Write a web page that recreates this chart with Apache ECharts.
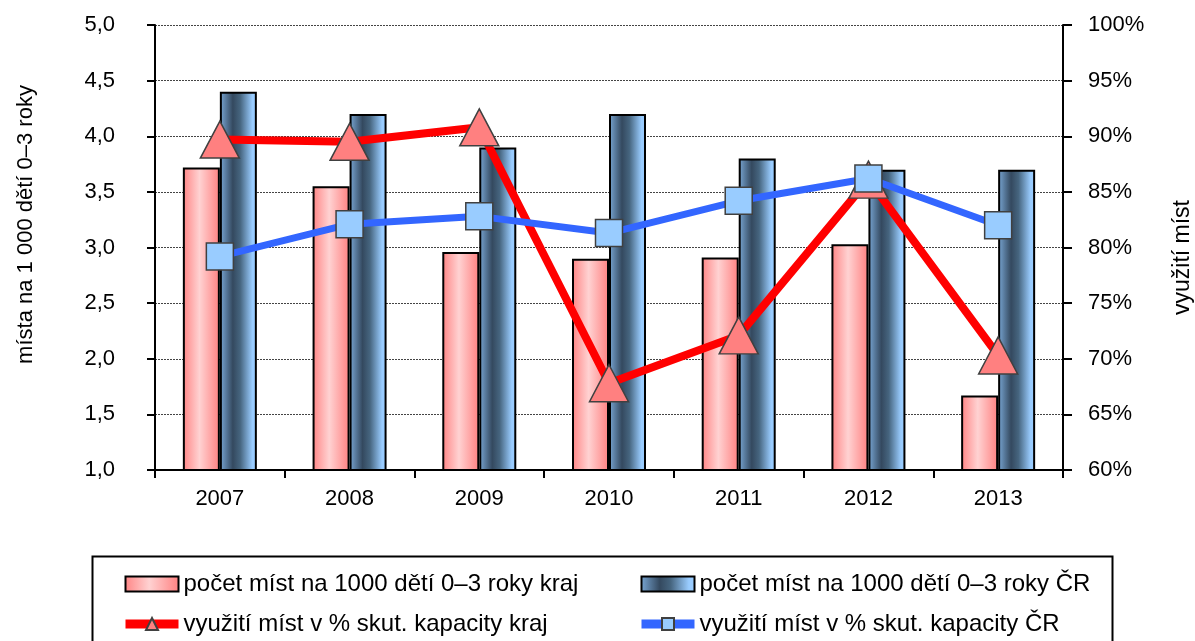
<!DOCTYPE html>
<html>
<head>
<meta charset="utf-8">
<script src="https://cdn.jsdelivr.net/npm/echarts@6/dist/echarts.min.js"></script>
<style>
  html, body { margin: 0; padding: 0; background: #fff; }
  #chart { width: 1195px; height: 641px; }
</style>
</head>
<body>
<div id="chart"></div>
<script>
// roky
var years = ['2007', '2008', '2009', '2010', '2011', '2012', '2013']
// počet míst na 1000 dětí 0–3 roky
var mistaKraj = [3.72, 3.55, 2.96, 2.90, 2.91, 3.03, 1.67]
var mistaCR = [4.4, 4.2, 3.9, 4.2, 3.8, 3.7, 3.7]
// využití míst v % skut. kapacity
var vyuzitiKraj = [89.7, 89.5, 90.8, 67.8, 72.1, 86.1, 70.3]
var vyuzitiCR = [79.2, 82.1, 82.8, 81.3, 84.2, 86.2, 82.0]

var FONT = '"Liberation Sans", Arial, sans-serif'

var chart = echarts.init(document.getElementById('chart'))

var redGrad = new echarts.graphic.LinearGradient(0, 0, 1, 0, [
    { offset: 0, color: '#ff8484' },
    { offset: 0.45, color: '#ffd2d2' },
    { offset: 1, color: '#ff8080' },
])
var blueGrad = new echarts.graphic.LinearGradient(0, 0, 1, 0, [
    { offset: 0, color: '#7aa8d6' },
    { offset: 0.35, color: '#34495f' },
    { offset: 0.55, color: '#46657f' },
    { offset: 0.88, color: '#99ccff' },
    { offset: 1, color: '#99ccff' },
])

var legendBase = {
    orient: 'vertical',
    top: 567,
    itemWidth: 53,
    itemHeight: 15,
    itemGap: 16,
    textStyle: { fontFamily: FONT, fontSize: 24, color: '#000', padding: [0, 0, 0, 0] },
    lineStyle: { width: 9 },
}

var option = {
    animation: false,
    textStyle: { fontFamily: FONT, color: '#000' },
    grid: { left: 155, right: 132, top: 25, bottom: 171, outerBoundsMode: 'none' },
    legend: [
        Object.assign({}, legendBase, {
            left: 116,
            data: [
                { name: 'počet míst na 1000 dětí 0–3 roky kraj', icon: 'rect' },
                { name: 'využití míst v % skut. kapacity kraj' },
            ],
        }),
        Object.assign({}, legendBase, {
            left: 632,
            data: [
                { name: 'počet míst na 1000 dětí 0–3 roky ČR', icon: 'rect' },
                { name: 'využití míst v % skut. kapacity ČR' },
            ],
        }),
    ],
    graphic: [
        {
            // rámeček legendy
            type: 'rect',
            left: 90,
            top: 554,
            shape: { width: 1020, height: 100 },
            style: { fill: 'none', stroke: '#000', lineWidth: 2 },
            z: -1,
        },
    ],
    xAxis: {
        type: 'category',
        data: years,
        axisLine: { lineStyle: { color: '#000', width: 2 } },
        axisTick: { show: true, length: 8, lineStyle: { color: '#000', width: 2 } },
        axisLabel: { color: '#000', fontSize: 22, margin: 18, fontFamily: FONT },
    },
    yAxis: [
        {
            type: 'value',
            min: 1,
            max: 5,
            interval: 0.5,
            name: 'místa na 1 000 dětí 0–3 roky',
            nameLocation: 'middle',
            nameRotate: 90,
            nameGap: 118,
            nameTextStyle: { fontSize: 22, color: '#000', fontFamily: FONT, padding: [0, 0, 0, 46] },
            axisLine: { show: true, lineStyle: { color: '#000', width: 2 } },
            axisTick: { show: true, length: 8, lineStyle: { color: '#000', width: 2 } },
            axisLabel: {
                color: '#000',
                fontSize: 22,
                margin: 40,
                fontFamily: FONT,
                formatter: function (v) { return v.toFixed(1).replace('.', ',') },
            },
            splitLine: { show: true, lineStyle: { color: '#444', width: 1, type: [2, 1] } },
        },
        {
            type: 'value',
            min: 60,
            max: 100,
            interval: 5,
            position: 'right',
            name: 'využití míst',
            nameLocation: 'middle',
            nameRotate: 90,
            nameGap: 108,
            nameTextStyle: { fontSize: 23, color: '#000', fontFamily: FONT, padding: [0, 20, 0, 0] },
            axisLine: { show: true, lineStyle: { color: '#000', width: 2 } },
            axisTick: { show: true, length: 9, lineStyle: { color: '#000', width: 2 } },
            axisLabel: {
                color: '#000',
                fontSize: 22,
                margin: 25,
                fontFamily: FONT,
                formatter: function (v) { return v + '%' },
            },
            splitLine: { show: false },
        },
    ],
    series: [
        {
            name: 'počet míst na 1000 dětí 0–3 roky kraj',
            type: 'bar',
            data: mistaKraj,
            barWidth: 37,
            barGap: '0%',
            itemStyle: { color: redGrad, borderColor: '#000', borderWidth: 2 },
        },
        {
            name: 'počet míst na 1000 dětí 0–3 roky ČR',
            type: 'bar',
            data: mistaCR,
            barWidth: 37,
            barGap: '0%',
            itemStyle: { color: blueGrad, borderColor: '#000', borderWidth: 2 },
        },
        {
            name: 'využití míst v % skut. kapacity kraj',
            type: 'line',
            yAxisIndex: 1,
            data: vyuzitiKraj,
            symbol: 'triangle',
            symbolSize: [39, 37],
            lineStyle: { color: '#ff0000', width: 8 },
            itemStyle: { color: '#ff8080', borderColor: '#404040', borderWidth: 1.5 },
            z: 3,
        },
        {
            name: 'využití míst v % skut. kapacity ČR',
            type: 'line',
            yAxisIndex: 1,
            data: vyuzitiCR,
            symbol: 'rect',
            symbolSize: 27,
            lineStyle: { color: '#3366ff', width: 7 },
            itemStyle: { color: '#99ccff', borderColor: '#404040', borderWidth: 1.5 },
            z: 4,
        },
    ],
}

chart.setOption(option)
window.addEventListener('resize', chart.resize)
</script>
</body>
</html>
